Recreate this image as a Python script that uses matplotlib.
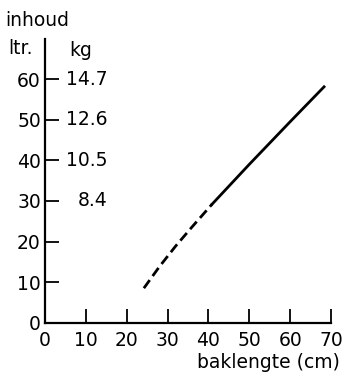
import matplotlib.pyplot as plt

# baklengte (cm) vs inhoud (ltr.)
dashed_len = [24.2, 28, 32, 36, 40.9]
dashed_ltr = [8.5, 13.8, 18.9, 23.6, 29.2]
solid_len = [40.9, 50, 60, 68.3]
solid_ltr = [29.2, 39.0, 49.5, 58.1]

ltr_ticks = [0, 10, 20, 30, 40, 50, 60]
len_ticks = [0, 10, 20, 30, 40, 50, 60, 70]
kg_ltr = [60, 50, 40, 30]
kg_labels = ["14.7", "12.6", "10.5", "8.4"]

plt.rcParams['font.family'] = 'DejaVu Sans'
fs = 13.5

fig = plt.figure(figsize=(3.48, 3.76), dpi=100)
ax = fig.add_axes([45/348, 1 - 322.7/376, 286/348, 284.2/376])

ax.plot(dashed_len, dashed_ltr, color='black', lw=2.0, linestyle=(0, (3.6, 1.8)))
ax.plot(solid_len, solid_ltr, color='black', lw=2.0)

ax.set_xlim(0, 70)
ax.set_ylim(0, 70)
ax.spines['top'].set_visible(False)
ax.spines['right'].set_visible(False)
ax.spines['left'].set_linewidth(1.6)
ax.spines['bottom'].set_linewidth(1.6)

ax.set_xticks(len_ticks)
ax.set_yticks(ltr_ticks)
ax.tick_params(axis='both', direction='in', length=10, width=1.3, labelsize=fs)
ax.tick_params(axis='x', pad=6)
ax.tick_params(axis='y', pad=3)

for l, kg in zip(kg_ltr, kg_labels):
    ax.annotate(kg, xy=(0, l), xytext=(45, 0), textcoords='offset points',
                ha='right', va='center', fontsize=fs)

fig.text(5/348, 1 - 20/376, "inhoud", fontsize=fs, ha='left', va='center')
fig.text(8/348, 1 - 49/376, "ltr.", fontsize=fs, ha='left', va='center')
fig.text(69/348, 1 - 50/376, "kg", fontsize=fs, ha='left', va='center')
fig.text(340/348, 1 - 363/376, "baklengte (cm)", fontsize=fs, ha='right', va='center')

fig.savefig("out.png", dpi=100)
